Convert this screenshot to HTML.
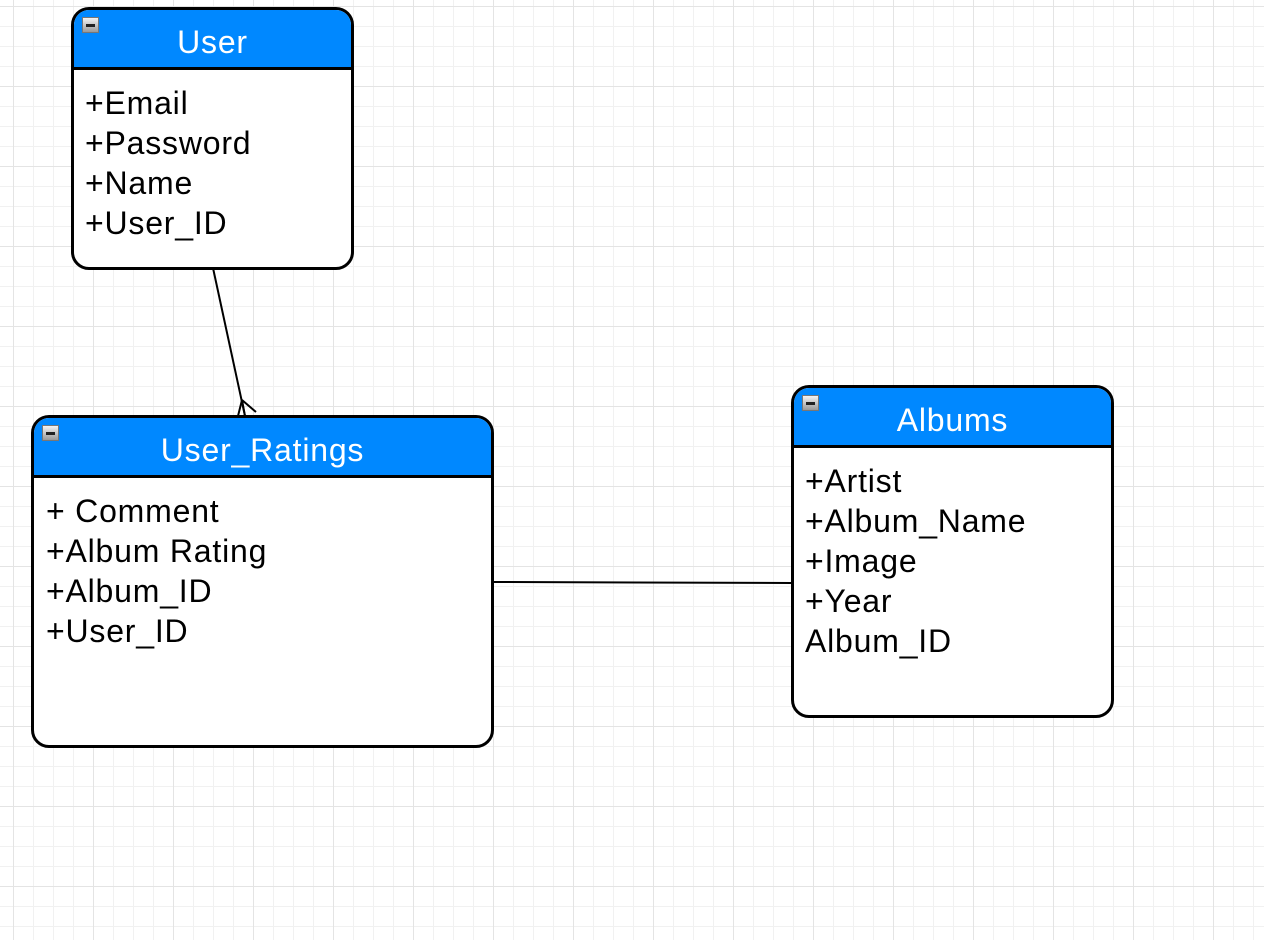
<!DOCTYPE html>
<html><head><meta charset="utf-8"><style>
body{margin:0;width:1264px;height:940px;overflow:hidden;background:#fff;
background-image:linear-gradient(#e4e4e4 1px,transparent 1px),linear-gradient(90deg,#e4e4e4 1px,transparent 1px),linear-gradient(#f1f1f1 1px,transparent 1px),linear-gradient(90deg,#f1f1f1 1px,transparent 1px);
background-size:80px 80px,80px 80px,20px 20px,20px 20px;background-position:0 6px,13px 0,0 6px,13px 0;
font-family:"Liberation Sans",Arial,sans-serif;position:relative}
.box{position:absolute;border:3px solid #000;border-radius:18px;background:#fff;box-sizing:border-box;overflow:hidden}
.hd{background:#0088ff;color:#fff;text-align:center;font-size:32px;letter-spacing:0.8px;border-bottom:3px solid #000;box-sizing:border-box;height:60px;line-height:64px;position:relative}
.ic{position:absolute;left:8px;top:7px;width:17px;height:16px;background:linear-gradient(#f4f4f4,#999);border:1px solid #777;box-sizing:border-box}
.ic:after{content:"";position:absolute;left:3px;right:3px;top:6px;height:3px;background:#222}
.bd{font-size:32px;letter-spacing:0.8px;line-height:40px;padding:13px 0 0 11px;color:#000}
svg{position:absolute;left:0;top:0}
</style></head><body>
<svg width="1264" height="940"><g stroke="#000" stroke-width="2" fill="none">
<line x1="213" y1="268" x2="245" y2="416"/>
<path d="M242 400 L238 416 M242 400 L256 412 M242 400 L245 416"/>
<line x1="492" y1="582" x2="792" y2="583"/></g></svg>
<div class="box" style="left:71px;top:7px;width:283px;height:263px"><div class="hd"><div class="ic"></div>User</div>
<div class="bd">+Email<br>+Password<br>+Name<br>+User_ID</div></div>
<div class="box" style="left:31px;top:415px;width:463px;height:333px"><div class="hd"><div class="ic"></div>User_Ratings</div>
<div class="bd" style="padding-left:12px">+ Comment<br>+Album Rating<br>+Album_ID<br>+User_ID</div></div>
<div class="box" style="left:791px;top:385px;width:323px;height:333px"><div class="hd"><div class="ic"></div>Albums</div>
<div class="bd">+Artist<br>+Album_Name<br>+Image<br>+Year<br>Album_ID</div></div>
</body></html>
